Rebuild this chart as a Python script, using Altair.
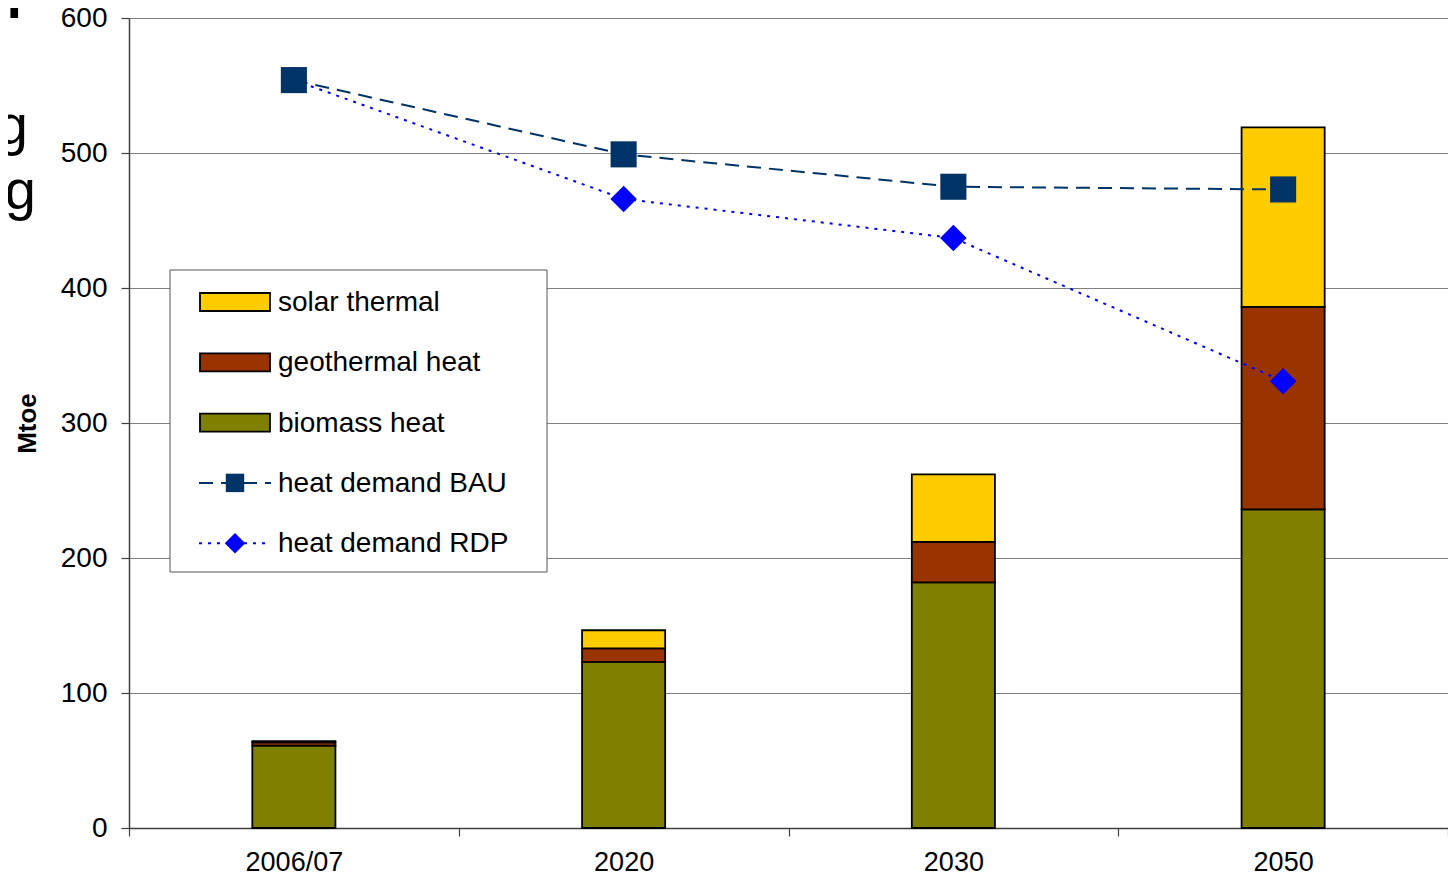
import altair as alt
import pandas as pd

years = ["2006/07", "2020", "2030", "2050"]
biomass = [61, 123, 182, 236]
geothermal = [2.5, 10, 30, 150]
solar = [0.8, 13.5, 50, 133]
bau = [554, 499, 475, 473]
rdp = [554, 466, 437, 331]

comp_names = ["biomass heat", "geothermal heat", "solar thermal"]
comp_colors = ["#808000", "#993300", "#FFCC00"]
line_names = ["heat demand BAU", "heat demand RDP"]

FONT = "Liberation Sans"

rows = []
for i, y in enumerate(years):
    for k, (name, vals) in enumerate(zip(comp_names, [biomass, geothermal, solar])):
        rows.append({"year": y, "component": name, "value": vals[i], "ord": k})
bars_df = pd.DataFrame(rows)
bau_df = pd.DataFrame({"year": years, "value": bau})
rdp_df = pd.DataFrame({"year": years, "value": rdp})

xscale = alt.Scale(type="band", domain=years, paddingInner=0, paddingOuter=0)
yscale = alt.Scale(domain=[0, 600])

xenc = alt.X("year:N", scale=xscale, sort=years,
             axis=alt.Axis(title=None, labelAngle=0, tickBand="extent", tickSize=8,
                           labelFontSize=27, labelPadding=13, labelColor="black",
                           labelFont=FONT, domainColor="#404040", domainWidth=1.5,
                           tickColor="#404040", tickWidth=1.2, grid=False))
yenc = alt.Y("value:Q", scale=yscale, stack="zero",
             axis=alt.Axis(title="Mtoe", values=[0, 100, 200, 300, 400, 500, 600],
                           tickSize=8, labelFontSize=28, labelPadding=14, labelColor="black",
                           labelFont=FONT, titleFont=FONT, titleFontSize=26,
                           titleFontWeight="bold", titleColor="black", titlePadding=20,
                           domainColor="#404040", domainWidth=1.5, tickColor="#404040",
                           tickWidth=1.2, grid=True, gridColor="#808080", gridWidth=1))

bars = alt.Chart(bars_df).mark_bar(stroke="black", strokeWidth=1.8,
                                   width=alt.RelativeBandSize(0.252)).encode(
    x=xenc,
    y=yenc,
    color=alt.Color("component:N", scale=alt.Scale(domain=comp_names, range=comp_colors), legend=None),
    order=alt.Order("ord:Q", sort="ascending"),
)

ysimple = alt.Y("value:Q", scale=yscale)
xsimple = alt.X("year:N", scale=xscale, sort=years)

rdp_line = alt.Chart(rdp_df).mark_line(color="#0000FF", strokeWidth=2, strokeDash=[3, 6]).encode(x=xsimple, y=ysimple)
rdp_pts = alt.Chart(rdp_df).mark_point(shape="diamond", filled=True, size=700, color="#0000FF", opacity=1).encode(x=xsimple, y=ysimple)
bau_line = alt.Chart(bau_df).mark_line(color="#003366", strokeWidth=2, strokeDash=[14, 8]).encode(x=xsimple, y=ysimple)
bau_pts = alt.Chart(bau_df).mark_point(shape="square", filled=True, size=680, color="#003366", opacity=1).encode(x=xsimple, y=ysimple)

# legend box (decoration)
one = pd.DataFrame({"a": [0]})
leg_layers = [
    alt.Chart(one).mark_rect(fill="white", stroke="#555555", strokeWidth=1).encode(
        x=alt.value(41), x2=alt.value(418), y=alt.value(252), y2=alt.value(554))
]
leg_entries = ["solar thermal", "geothermal heat", "biomass heat"] + line_names
leg_fill = {"solar thermal": "#FFCC00", "geothermal heat": "#993300", "biomass heat": "#808000"}
for i, name in enumerate(leg_entries):
    cy = 284 + i * 60.3
    d = pd.DataFrame({"label": [name]})
    if name in leg_fill:
        leg_layers.append(alt.Chart(d).mark_rect(fill=leg_fill[name], stroke="black", strokeWidth=1.8).encode(
            x=alt.value(71), x2=alt.value(141), y=alt.value(cy - 9), y2=alt.value(cy + 9)))
    elif name == "heat demand BAU":
        leg_layers.append(alt.Chart(d).mark_rule(color="#003366", strokeWidth=2, strokeDash=[14, 8]).encode(
            x=alt.value(70), x2=alt.value(142), y=alt.value(cy)))
        leg_layers.append(alt.Chart(d).mark_point(shape="square", filled=True, size=340, color="#003366", opacity=1).encode(
            x=alt.value(106), y=alt.value(cy)))
    else:
        leg_layers.append(alt.Chart(d).mark_rule(color="#0000FF", strokeWidth=2, strokeDash=[3, 6]).encode(
            x=alt.value(70), x2=alt.value(142), y=alt.value(cy)))
        leg_layers.append(alt.Chart(d).mark_point(shape="diamond", filled=True, size=420, color="#0000FF", opacity=1).encode(
            x=alt.value(106), y=alt.value(cy)))
    leg_layers.append(alt.Chart(d).mark_text(align="left", baseline="middle", fontSize=28, font=FONT, color="black").encode(
        x=alt.value(149), y=alt.value(cy + 1), text="label:N"))

# cropped text fragments at the left edge of the original image
frag = [
    ("el", -107, 0, "bold"),
    ("g", -101, 126, "normal"),
    ("ng", -93, 191, "normal"),
]
frag_layers = []
for t, fx, fy, fw in frag:
    frag_layers.append(alt.Chart(pd.DataFrame({"t": [t]})).mark_text(
        align="right", baseline="alphabetic", fontSize=56, font=FONT, fontWeight=fw, color="black").encode(
        x=alt.value(fx), y=alt.value(fy), text="t:N"))

chart = alt.layer(bars, rdp_line, rdp_pts, bau_line, bau_pts, *leg_layers, *frag_layers).properties(
    width=1319, height=810,
    autosize=alt.AutoSizeParams(type="none"),
    padding={"left": 121, "top": 10, "right": 0, "bottom": 48},
).configure_view(stroke="#808080", strokeWidth=1.5).configure(background="white")

chart.save("out.html", embed_options={"renderer": "svg", "actions": False})
